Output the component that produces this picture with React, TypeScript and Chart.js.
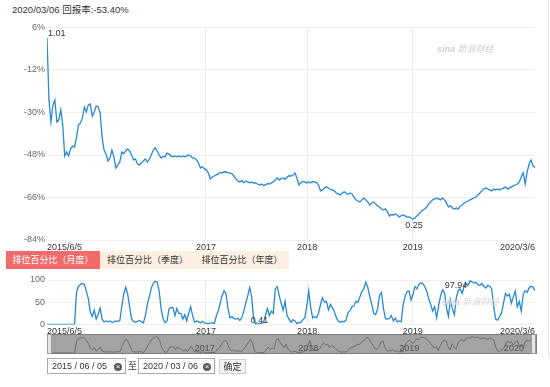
import React, { useEffect, useRef } from "react";
import { Chart, registerables } from "chart.js";

Chart.register(...registerables);
Chart.defaults.font.family = '"Liberation Sans", Arial, sans-serif';

// ---- data ----
const TITLE_DATE = "2020/03/06";
const TITLE_RETURN = "回报率:-53.40%";

const X_TICK_POS = [0, 80.8, 132.2, 185.9, 248];
const X_TICK_LABELS = ["2015/6/5", "2017", "2018", "2019", "2020/3/6"];
const NAV_TICK_POS = [79.8, 132.2, 183.4, 236.3];
const NAV_TICK_LABELS = ["2017", "2018", "2019", "2020"];
const RETURN_TICKS = [6, -12, -30, -48, -66, -84];
const RANK_TICKS = [0, 50, 100];
const NAV_EXTREMES = ["1.01", "0.25"]; // net value at highest / lowest point

const TABS = ["排位百分比（月度）", "排位百分比（季度）", "排位百分比（年度）"];
const START_DATE = "2015 / 06 / 05";
const END_DATE = "2020 / 03 / 06";

// weekly return (%) since 2015/6/5
const RETURN_VALUES = [
  1.6, -24.7, -34.0, -26.8, -24.7, -34.0, -33.2, -28.9, -35.3, -48.4,
  -46.7, -48.4, -45.4, -44.2, -44.6, -40.4, -35.3, -34.4, -32.3, -27.7,
  -29.8, -26.8, -26.4, -31.5, -29.8, -27.2, -27.7, -30.2, -40.4, -45.9,
  -47.6, -50.5, -49.3, -45.9, -48.8, -53.5, -52.2, -51.0, -46.7, -47.5,
  -46.3, -45.4, -46.3, -48.0, -50.1, -49.7, -51.8, -52.2, -51.4, -50.5,
  -49.7, -51.0, -49.7, -48.0, -45.9, -45.0, -46.3, -48.0, -49.3, -48.6,
  -48.8, -47.2, -47.6, -48.4, -48.8, -48.4, -48.8, -48.4, -48.8, -48.4,
  -48.8, -48.4, -48.0, -48.4, -49.3, -49.3, -50.1, -51.4, -53.5, -53.0,
  -53.9, -54.3, -55.6, -58.1, -57.3, -56.9, -56.4, -56.0, -55.4, -55.6,
  -55.1, -55.2, -55.6, -55.6, -56.0, -56.9, -58.1, -59.0, -59.4, -58.8,
  -59.8, -59.0, -59.4, -59.8, -59.4, -59.9, -59.8, -60.3, -60.7, -60.3,
  -60.9, -60.7, -60.1, -60.3, -59.8, -59.4, -58.6, -57.7, -58.6, -58.0,
  -57.7, -58.2, -57.3, -56.8, -56.9, -56.5, -55.6, -57.7, -60.7, -59.8,
  -59.2, -59.4, -59.9, -59.4, -59.8, -59.3, -59.4, -59.8, -60.7, -63.2,
  -62.8, -62.0, -61.5, -62.0, -62.6, -62.8, -63.2, -64.1, -64.5, -64.9,
  -64.1, -63.6, -64.1, -64.7, -64.1, -64.5, -65.8, -67.0, -67.5, -67.9,
  -67.0, -66.2, -67.0, -67.9, -69.2, -68.3, -67.9, -68.7, -69.6, -70.0,
  -70.9, -71.3, -70.8, -72.1, -73.8, -73.2, -73.4, -73.0, -73.4, -74.2,
  -73.8, -73.4, -73.8, -74.3, -74.2, -74.7, -75.1, -74.7, -73.8, -73.0,
  -72.1, -71.3, -70.9, -70.0, -68.7, -67.9, -67.0, -66.6, -66.2, -66.6,
  -67.0, -66.2, -67.0, -68.3, -70.0, -69.4, -70.4, -70.9, -70.4, -70.9,
  -69.6, -69.2, -68.3, -67.9, -67.5, -67.0, -66.6, -66.2, -65.8, -64.9,
  -64.1, -63.2, -62.4, -62.0, -62.4, -62.8, -63.2, -62.4, -62.8, -62.4,
  -62.8, -62.4, -62.0, -61.6, -62.4, -62.0, -61.5, -61.1, -60.7, -60.3,
  -59.4, -57.3, -55.6, -60.3, -55.2, -51.8, -50.1, -52.6, -53.4,
];

// weekly rank percentile
const RANK_VALUES = [
  0.5, 0.5, 0.5, 0.5, 0.5, 0.5, 0.5, 0.5, 0.5, 0.5,
  0.5, 0.5, 0.5, 0.5, 0.5, 73, 86, 90, 92, 90,
  75, 58, 28, 18, 32, 12, 23, 37, 12, 6,
  8, 6, 8, 5, 6, 8, 7, 9, 40, 68,
  84, 68, 40, 12, 7, 5, 7, 9, 6, 4,
  20, 45, 63, 82, 92, 97, 95, 75, 35, 13,
  4, 8, 35, 38, 38, 20, 36, 25, 25, 12,
  22, 8, 25, 40, 20, 5, 8, 6, 4, 7,
  4, 2, 2, 3, 4, 2, 18, 30, 48, 65,
  76, 68, 35, 15, 18, 13, 12, 14, 9, 15,
  30, 48, 64, 83, 62, 12, 2, 0.41, 2, 3,
  4, 20, 36, 20, 30, 25, 80, 85, 65, 48,
  32, 52, 20, 12, 5, 11, 8, 2, 4, 4,
  11, 15, 40, 75, 38, 15, 18, 15, 26, 45,
  60, 50, 52, 33, 45, 38, 30, 16, 8, 5,
  7, 6, 10, 27, 31, 40, 42, 52, 50, 62,
  74, 80, 95, 84, 63, 46, 25, 22, 35, 66,
  72, 35, 13, 12, 14, 20, 8, 14, 6, 8,
  6, 45, 63, 74, 75, 55, 68, 85, 80, 90,
  94, 92, 85, 74, 58, 45, 30, 40, 15, 42,
  64, 78, 72, 38, 18, 55, 35, 22, 60, 77,
  80, 70, 86, 92, 88, 97.94, 96, 93, 95, 89,
  88, 92, 86, 82, 88, 86, 80, 40, 12, 10,
  18, 26, 48, 70, 64, 68, 48, 62, 75, 40,
  52, 30, 68, 76, 72, 82, 86, 84, 76,
];

const BLUE = "#2689d6";
const LABEL_FONT = '9px "Liberation Sans", Arial, sans-serif';

function idxMax(a: number[]) { let k = 0; a.forEach((v, i) => { if (v > a[k]) k = i; }); return k; }
function idxMin(a: number[]) { let k = 0; a.forEach((v, i) => { if (v < a[k]) k = i; }); return k; }

const pointLabels = {
  id: "pointLabels",
  afterDatasetsDraw(chart: any, _a: any, opts: any) {
    const items = opts && opts.items;
    if (!items) return;
    const { ctx } = chart;
    const meta = chart.getDatasetMeta(0);
    items.forEach((it: any) => {
      const pt = meta.data[it.index];
      if (!pt) return;
      ctx.save();
      ctx.font = LABEL_FONT;
      ctx.fillStyle = "#333";
      ctx.textAlign = it.align;
      ctx.textBaseline = "middle";
      ctx.fillText(it.text, pt.x + it.dx, pt.y + it.dy);
      ctx.restore();
    });
  },
};

const navigatorDeco = {
  id: "navigatorDeco",
  beforeDatasetsDraw(chart: any) {
    const { ctx, chartArea: a } = chart;
    ctx.save();
    ctx.fillStyle = "#a3a3a3";
    ctx.fillRect(a.left, a.top, a.right - a.left, a.bottom - a.top);
    ctx.restore();
  },
  afterDraw(chart: any) {
    const { ctx, chartArea: a, scales } = chart;
    ctx.save();
    ctx.font = LABEL_FONT;
    ctx.fillStyle = "#555";
    ctx.textAlign = "center";
    ctx.textBaseline = "middle";
    NAV_TICK_POS.forEach((v, i) => {
      ctx.fillText(NAV_TICK_LABELS[i], scales.x.getPixelForValue(v), a.top + 14.5);
    });
    ctx.strokeStyle = "#7d7d7d";
    ctx.lineWidth = 1;
    ctx.strokeRect(a.left + 0.5, a.top + 0.5, a.right - a.left - 1, a.bottom - a.top - 1);
    ctx.fillStyle = "#e4e4e4";
    ctx.strokeStyle = "#9a9a9a";
    ctx.fillRect(a.left + 0.5, a.top + 0.5, 4, a.bottom - a.top - 1);
    ctx.strokeRect(a.left + 0.5, a.top + 0.5, 4, a.bottom - a.top - 1);
    ctx.fillRect(a.right - 5.5, a.top + 0.5, 4, a.bottom - a.top - 1);
    ctx.strokeRect(a.right - 5.5, a.top + 0.5, 4, a.bottom - a.top - 1);
    ctx.restore();
  },
};

function xScale(height: number) {
  return {
    type: "linear" as const,
    min: 0,
    max: RETURN_VALUES.length - 1,
    afterBuildTicks: (s: any) => { s.ticks = X_TICK_POS.map((v) => ({ value: v })); },
    afterFit: (s: any) => { s.height = height; },
    ticks: {
      autoSkip: false,
      maxRotation: 0,
      align: "inner" as const,
      padding: 2,
      color: "#333",
      font: { size: 9 },
      callback: (_v: any, i: number) => X_TICK_LABELS[i],
    },
    grid: {
      color: (c: any) => (c.index === 0 || c.index === X_TICK_POS.length - 1 ? "rgba(0,0,0,0)" : "#ececec"),
      drawTicks: false,
      lineWidth: 1,
    },
    border: { display: false },
  };
}

export default function App() {
  const mainRef = useRef<HTMLCanvasElement>(null);
  const rankRef = useRef<HTMLCanvasElement>(null);
  const navRef = useRef<HTMLCanvasElement>(null);

  useEffect(() => {
    const charts: Chart[] = [];
    const maxI = idxMax(RETURN_VALUES);
    const minI = idxMin(RETURN_VALUES);
    charts.push(
      new Chart(mainRef.current!, {
        type: "line",
        data: {
          datasets: [{
            data: RETURN_VALUES.map((v, i) => ({ x: i, y: v })),
            borderColor: BLUE, borderWidth: 1.3, pointRadius: 0, tension: 0,
          }],
        },
        options: {
          animation: false, responsive: false, maintainAspectRatio: false,
          layout: { padding: { left: 0, right: 15, top: 9.5, bottom: 0 } },
          plugins: {
            legend: { display: false }, tooltip: { enabled: false },
            pointLabels: {
              items: [
                { index: maxI, text: NAV_EXTREMES[0], dx: 1, dy: -4, align: "left" },
                { index: minI, text: NAV_EXTREMES[1], dx: 1, dy: 7, align: "center" },
              ],
            },
          } as any,
          scales: {
            x: xScale(18) as any,
            y: {
              min: -84, max: 6,
              afterBuildTicks: (s: any) => { s.ticks = RETURN_TICKS.map((v) => ({ value: v })); },
              afterFit: (s: any) => { s.width = 47; },
              ticks: { color: "#666", font: { size: 9 }, padding: 2, callback: (v: any) => v + "%" },
              grid: { color: "#efefef", drawTicks: false },
              border: { display: false },
            },
          },
        },
        plugins: [pointLabels],
      })
    );

    const rMax = idxMax(RANK_VALUES);
    const rMin = idxMin(RANK_VALUES);
    charts.push(
      new Chart(rankRef.current!, {
        type: "line",
        data: {
          datasets: [{
            data: RANK_VALUES.map((v, i) => ({ x: i, y: v })),
            borderColor: BLUE, borderWidth: 1.3, pointRadius: 0, tension: 0,
          }],
        },
        options: {
          animation: false, responsive: false, maintainAspectRatio: false,
          layout: { padding: { left: 0, right: 15, top: 8, bottom: 0 } },
          plugins: {
            legend: { display: false }, tooltip: { enabled: false },
            pointLabels: {
              items: [
                { index: rMax, text: RANK_VALUES[rMax].toFixed(2), dx: -14, dy: 4.5, align: "center" },
                { index: rMin, text: RANK_VALUES[rMin].toFixed(2), dx: 2, dy: -4, align: "center" },
              ],
            },
          } as any,
          scales: {
            x: xScale(13.5) as any,
            y: {
              min: 0, max: 100,
              afterBuildTicks: (s: any) => { s.ticks = RANK_TICKS.map((v) => ({ value: v })); },
              afterFit: (s: any) => { s.width = 47; },
              ticks: { color: "#666", font: { size: 9 }, padding: 2 },
              grid: { color: "#efefef", drawTicks: false },
              border: { display: false },
            },
          },
        },
        plugins: [pointLabels],
      })
    );

    charts.push(
      new Chart(navRef.current!, {
        type: "line",
        data: {
          datasets: [{
            data: RANK_VALUES.map((v, i) => ({ x: i, y: v })),
            borderColor: "#6e6e6e", borderWidth: 1, pointRadius: 0, tension: 0,
          }],
        },
        options: {
          animation: false, responsive: false, maintainAspectRatio: false,
          layout: { padding: { left: 47, right: 13, top: 1, bottom: 1 } },
          plugins: { legend: { display: false }, tooltip: { enabled: false } },
          scales: {
            x: { type: "linear", display: false, min: 0, max: RANK_VALUES.length - 1 },
            y: { display: false, min: -6, max: 114 },
          },
        },
        plugins: [navigatorDeco],
      })
    );
    return () => charts.forEach((c) => c.destroy());
  }, []);

  const cjk = '"Liberation Sans", "Noto Sans CJK SC", sans-serif';
  const tabBase: React.CSSProperties = {
    position: "absolute", top: 251, height: 18, lineHeight: "18px", textAlign: "center",
    fontSize: 9, fontFamily: '"Noto Sans CJK SC", sans-serif', whiteSpace: "nowrap",
  };
  const inputBase: React.CSSProperties = {
    position: "absolute", top: 358, height: 14, border: "1px solid #a9a9a9", background: "#fff",
    fontSize: 9, lineHeight: "14px", color: "#333", fontFamily: cjk, boxSizing: "content-box", whiteSpace: "nowrap",
  };
  const clear = (left: number): React.CSSProperties => ({
    position: "absolute", left, top: 3.5, width: 8, height: 8, borderRadius: 4, background: "#5a5a5a",
    color: "#fff", fontSize: 8, lineHeight: "8px", textAlign: "center", fontFamily: "Arial, sans-serif",
  });

  return (
    <div style={{ position: "absolute", left: 0, top: 0, width: 550, height: 387, background: "#fff", overflow: "hidden" }}>
      <div style={{ position: "absolute", left: 12, top: 2, fontSize: 9.5, color: "#333", fontFamily: cjk, whiteSpace: "nowrap" }}>
        {TITLE_DATE} {TITLE_RETURN}
      </div>
      <div style={{ position: "absolute", left: 548, top: 0, width: 1, height: 357, background: "#e3e3e3" }} />
      <canvas ref={mainRef} width={550} height={240} style={{ position: "absolute", left: 0, top: 18 }} />
      <div style={{ position: "absolute", left: 437, top: 42, fontSize: 9, color: "#cfcfcf", fontStyle: "italic", fontFamily: cjk, whiteSpace: "nowrap" }}>
        <b>sina</b> 新浪财经
      </div>
      <div style={{ ...tabBase, left: 6, width: 94, background: "#f26a6a", color: "#fff" }}>{TABS[0]}</div>
      <div style={{ ...tabBase, left: 100, width: 95, background: "#fdf0e2", color: "#333" }}>{TABS[1]}</div>
      <div style={{ ...tabBase, left: 195, width: 94, background: "#fdf0e2", color: "#333" }}>{TABS[2]}</div>
      <canvas ref={rankRef} width={550} height={66} style={{ position: "absolute", left: 0, top: 272 }} />
      <div style={{ position: "absolute", left: 442, top: 295, fontSize: 9, color: "#d8d8d8", fontStyle: "italic", fontFamily: cjk, whiteSpace: "nowrap" }}>
        <b>sina</b> 新浪财经
      </div>
      <canvas ref={navRef} width={550} height={22} style={{ position: "absolute", left: 0, top: 333 }} />
      <div style={{ ...inputBase, left: 47, width: 77 }}>
        <span style={{ position: "absolute", left: 4, top: 0 }}>{START_DATE}</span>
        <span style={clear(66)}>×</span>
      </div>
      <div style={{ position: "absolute", left: 128, top: 359, fontSize: 9, color: "#333", fontFamily: '"Noto Sans CJK SC", sans-serif', lineHeight: "14px" }}>至</div>
      <div style={{ ...inputBase, left: 138, width: 75 }}>
        <span style={{ position: "absolute", left: 4, top: 0 }}>{END_DATE}</span>
        <span style={clear(64)}>×</span>
      </div>
      <div style={{ position: "absolute", left: 219, top: 359, width: 25, height: 13, border: "1px solid #cfcfcf", background: "#f3f3f3", fontSize: 9, lineHeight: "13px", textAlign: "center", color: "#333", fontFamily: '"Noto Sans CJK SC", sans-serif' }}>
        确定
      </div>
    </div>
  );
}
